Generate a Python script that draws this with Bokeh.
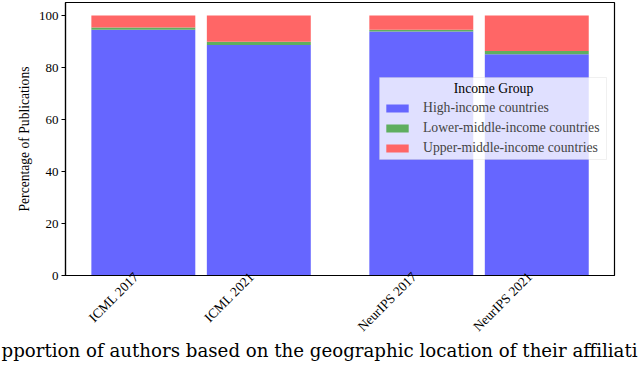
import math
from bokeh.plotting import figure
from bokeh.models import BoxAnnotation, ColumnDataSource, FixedTicker, Label, Legend, Range1d
from bokeh.embed import file_html
from bokeh.resources import INLINE

# ---- data ----
conferences = ["ICML 2017", "ICML 2021", "NeurIPS 2017", "NeurIPS 2021"]
high_income = [94.5, 88.7, 93.8, 85.1]
lower_middle_income = [0.9, 1.2, 0.7, 1.2]
upper_middle_income = [4.6, 10.1, 5.5, 13.7]
series_names = ["High-income countries", "Lower-middle-income countries", "Upper-middle-income countries"]
legend_title = "Income Group"
y_ticks = [0, 20, 40, 60, 80, 100]
caption = "pportion of authors based on the geographic location of their affiliati"

# ---- layout ----
GROUP_GAP = 0.407
LABEL_SHIFT = -0.06   # rotated tick labels sit slightly left of the bar centres
xpos = [i + (GROUP_GAP if i >= 2 else 0.0) for i in range(len(conferences))]
label_pos = [x + LABEL_SHIFT for x in xpos]

src = ColumnDataSource(dict(
    x=xpos,
    high=high_income,
    lower=lower_middle_income,
    upper=upper_middle_income,
))

SERIF = "Liberation Serif"
colors = ["#6666ff", "#5fae5f", "#ff6666"]

p = figure(width=640, height=371, output_backend="svg", toolbar_location=None,
           x_range=Range1d(-0.674, 4.08), y_range=Range1d(0, 105),
           min_border_left=65, min_border_right=26, min_border_top=2, min_border_bottom=96)

renderers = p.vbar_stack(["high", "lower", "upper"], x="x", width=0.9, color=colors,
                         line_width=0, source=src)

# legend frame (drawn separately so the centred title can sit on top of it)
p.add_layout(BoxAnnotation(left=314, right=541, bottom=116, top=198,
                           left_units="screen", right_units="screen",
                           bottom_units="screen", top_units="screen",
                           fill_color="white", fill_alpha=0.8,
                           line_color="#cccccc", line_width=1, level="annotation"))

legend = Legend(items=[(name, [r]) for name, r in zip(series_names, renderers)],
                location=(318, 119), title=" ",
                title_text_font=SERIF, title_text_font_size="13.7px", title_text_font_style="normal",
                title_standoff=0,
                label_text_font=SERIF, label_text_font_size="13.7px",
                glyph_width=28, glyph_height=10, label_height=17, spacing=3,
                label_standoff=12, padding=4, margin=0,
                background_fill_alpha=0, border_line_color=None)
p.add_layout(legend, "center")
p.add_layout(Label(x=428, y=187, x_units="screen", y_units="screen", text=legend_title,
                   text_font=SERIF, text_font_size="13.7px", text_color="black",
                   text_align="center", text_baseline="middle", level="overlay"), "center")

p.xgrid.visible = False
p.ygrid.visible = False
p.outline_line_color = "black"
p.outline_line_width = 1.2

p.xaxis.ticker = FixedTicker(ticks=label_pos)
p.xaxis.major_label_overrides = {x: c for x, c in zip(label_pos, conferences)}
p.xaxis.major_label_orientation = math.pi / 4
p.yaxis.ticker = FixedTicker(ticks=y_ticks)
p.yaxis.axis_label = "Percentage of Publications"

for ax in (p.xaxis[0], p.yaxis[0]):
    ax.axis_line_color = "black"
    ax.axis_line_width = 1.2
    ax.major_tick_line_color = "black"
    ax.major_tick_out = 4
    ax.major_tick_in = 0
    ax.minor_tick_line_color = None
    ax.major_label_text_font = SERIF
    ax.major_label_text_color = "black"
    ax.axis_label_text_font = SERIF
    ax.axis_label_text_font_size = "13.6px"
    ax.axis_label_text_font_style = "normal"
    ax.axis_label_text_color = "black"
    ax.major_label_standoff = 3
p.yaxis.major_label_text_font_size = "13px"
p.xaxis.major_label_text_font_size = "13.5px"
p.xaxis.major_tick_out = 0
p.xaxis.major_tick_line_color = None
p.xaxis.major_label_standoff = -1
p.yaxis.axis_label_standoff = 4

p.add_layout(Label(x=-64, y=13, x_units="screen", y_units="screen", text=caption,
                   text_font="DejaVu Serif", text_font_size="18.2px", text_color="black",
                   text_baseline="alphabetic"), "below")

open("out.html", "w").write(file_html(p, INLINE))
